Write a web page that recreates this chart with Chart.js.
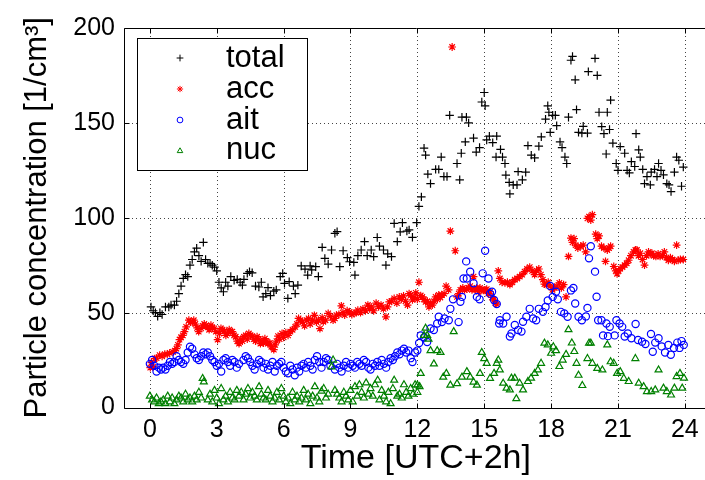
<!DOCTYPE html>
<html><head><meta charset="utf-8">
<script src="https://cdn.jsdelivr.net/npm/chart.js@4/dist/chart.umd.min.js"></script>
<style>html,body{margin:0;padding:0;background:#fff;overflow:hidden;width:705px;height:480px}canvas{display:block}</style>
</head><body><canvas id="c" width="713" height="480"></canvas>
<script>
const timeTicks=[0,3,6,9,12,15,18,21,24];
const concTicks=[0,50,100,150,200];
const seriesNames=['total','acc','ait','nuc'];

const totalTime=[0.05,0.15,0.25,0.35,0.45,0.55,0.7,0.85,0.95,1.1,1.2,1.3,1.4,1.5,1.6,1.7,1.8,1.9,2.0,2.1,2.2,2.3,2.4,2.5,2.6,2.7,2.8,2.9,3.0,3.1,3.2,3.3,3.4,3.5,3.63,3.78,3.92,4.05,4.15,4.22,4.37,4.47,4.59,4.74,4.89,5.0,5.08,5.2,5.3,5.41,5.56,5.67,5.85,5.96,6.04,6.19,6.25,6.44,6.52,6.64,6.79,6.96,7.08,7.19,7.26,7.44,7.56,7.73,7.85,8.0,8.15,8.3,8.4,8.52,8.67,8.86,8.96,9.15,9.2,9.33,9.48,9.63,9.75,9.93,10.04,10.2,10.3,10.48,10.59,10.67,10.84,10.96,11.1,11.23,11.33,11.53,11.63,11.78,11.97,12.07,12.18,12.3,12.37,12.47,12.59,12.82,12.96,13.07,13.19,13.33,13.45,13.78,13.9,13.97,14.0,14.15,14.2,14.3,14.52,14.64,14.79,14.89,15.0,15.04,15.11,15.23,15.38,15.53,15.56,15.73,15.82,15.93,15.97,16.12,16.15,16.3,16.47,16.52,16.71,16.86,16.96,17.11,17.26,17.45,17.56,17.75,17.85,17.9,17.96,18.07,18.19,18.25,18.4,18.49,18.62,18.7,18.78,18.89,18.96,19.08,19.14,19.23,19.38,19.44,19.63,19.67,19.97,20.07,20.15,20.27,20.37,20.47,20.52,20.62,20.67,20.77,20.92,21.0,21.1,21.3,21.41,21.51,21.6,21.75,21.81,21.93,22.0,22.11,22.19,22.3,22.45,22.49,22.64,22.75,22.82,22.93,23.04,23.19,23.29,23.38,23.53,23.63,23.73,23.85,23.93];
const totalConc=[53,51,50,48,50,49,53,53,54,54,56,60,64,68,70,69,75,78,82,84,80,77,87,78,76,76,75,74,72,66,63,61,66,64,69,67,67.5,66,64.5,67.5,70.7,71.6,71,64,63.5,66,58.3,60,63.2,59,61.3,62,69,70.7,65.4,57.5,66.3,64,60,64.5,74.6,72.9,69.8,74.6,72.5,74.2,69,84.4,78.6,75.6,83,91.8,92.7,74.2,82.6,79,76.8,76.5,69.8,80,83,87.4,80,83,79.5,89.6,85,83,75,81,79.5,97,87.4,92.6,97.4,93,93.6,89.7,97.4,106,111,136.7,133,123,118,125.5,125.5,132,121.7,121.7,154,128.6,120,134,153,140,153,150,142,134.6,137,161,166,159,141,143,139.6,132,143,136,132,128.6,122.5,118.6,112.6,117.3,117.3,124.3,120,124,138,133,131.6,137.7,142.6,152,159,155.6,145,154,154,148.5,140,137,132,128.6,153,183,185,172.7,157,145,144.6,148.2,144.6,177,184,175,155.6,148,144.3,133.6,155.6,146.5,162,139.3,128.6,125,137.5,134,125,123.6,129.6,127,144.3,135.8,132,125.5,118,121.7,117.3,124,125.5,121.7,128.6,125,122.6,118,117.3,113.8,124,132,130.3,116.6,126.7];

const accTime=[0.02,0.07,0.14,0.22,0.3,0.44,0.55,0.67,0.78,0.89,1.04,1.12,1.19,1.26,1.33,1.4,1.48,1.55,1.63,1.75,1.82,1.9,1.97,2.04,2.12,2.19,2.3,2.37,2.44,2.52,2.59,2.66,2.74,2.81,2.89,2.96,3.04,3.12,3.19,3.26,3.33,3.41,3.48,3.56,3.63,3.7,3.78,3.85,3.92,4.0,4.08,4.15,4.22,4.3,4.37,4.44,4.52,4.59,4.67,4.74,4.81,4.89,4.96,5.04,5.1,5.16,5.23,5.3,5.38,5.45,5.56,5.62,5.68,5.75,5.82,5.93,6.0,6.1,6.2,6.3,6.4,6.52,6.6,6.67,6.76,6.84,6.94,7.04,7.12,7.19,7.3,7.38,7.47,7.56,7.63,7.73,7.78,7.88,8.0,8.1,8.22,8.3,8.37,8.48,8.59,8.66,8.74,8.85,8.96,9.06,9.16,9.25,9.33,9.45,9.56,9.67,9.78,9.86,9.93,10.04,10.15,10.26,10.37,10.48,10.59,10.66,10.74,10.85,10.96,11.08,11.19,11.28,11.38,11.47,11.56,11.63,11.7,11.78,11.86,11.93,12.0,12.07,12.15,12.22,12.3,12.37,12.45,12.52,12.6,12.67,12.75,12.82,12.9,12.96,13.03,13.1,13.2,13.29,13.4,13.48,13.56,13.7,13.78,13.86,13.93,14.04,14.12,14.22,14.3,14.37,14.45,14.52,14.6,14.67,14.74,14.81,14.89,14.96,15.04,15.11,15.18,15.26,15.35,15.44,15.5,15.56,15.63,15.7,15.8,15.93,16.04,16.15,16.26,16.37,16.48,16.59,16.7,16.81,16.92,17.04,17.15,17.26,17.35,17.45,17.54,17.63,17.7,17.78,17.87,17.96,18.06,18.16,18.26,18.37,18.46,18.56,18.67,18.78,18.89,18.96,19.03,19.1,19.2,19.33,19.44,19.55,19.63,19.7,19.78,19.85,20.0,20.07,20.15,20.26,20.37,20.44,20.52,20.6,20.67,20.81,20.9,20.96,21.03,21.1,21.2,21.3,21.39,21.48,21.58,21.7,21.78,21.85,21.92,22.0,22.1,22.19,22.28,22.37,22.45,22.52,22.6,22.7,22.8,22.89,23.0,23.08,23.17,23.26,23.35,23.44,23.53,23.63,23.7,23.8,23.93];
const accConc=[21,23.6,21.5,25.8,26,27.6,27,28.1,28,28.8,29.3,30,31,33,35.8,37,38,40,42.5,46,45,45,46,44,42,40,41.7,43,44,43,42.5,41,43.4,42,41.7,40,35.8,39,41.7,41,40.4,38,39,41,40,40,38,37.3,35,33.7,36,35,37.3,38,36,39,38,37.6,36,35,37.3,36,33.7,35,34,36.3,35,33.7,34,32,30.5,33,35,37.6,36,39,37,39.4,38,40,41,42.5,44,47,46,45,43,46,47,44,46,48.6,45,46,41.6,47.4,45.2,46,49.6,48,46,47,48.7,49,53.6,50,48.7,51,50.4,49,49.6,50,51.3,50,52,51,54,52,53,51,55,53,54,52,47.8,53,55.7,56,57.5,55,58.3,57,58.8,56,54,60,59.3,56.7,58,60.4,57,66,59,58.3,57,55.7,56,53,55,54,56,58.3,57,59.3,58,59.3,60,64,62,93,190,82.6,58.3,60,62,63,62,62.4,63,64,62,69,62,63,61,63,62,61.7,62,62.4,60,61,58,56.7,55,54.5,72,68,66,65.7,66,64.8,66,67.4,68,69,70,71.6,73,74,72,70,72,73,70,67.4,65,64.8,66,64,62,63,64,65.7,63,64.8,58.3,79.6,89.3,87,89,85.6,84,85,85.6,82,99.7,100.6,98.8,101.6,91.4,89,90.4,85,84,77,83,84,85,74.3,72,70.5,72,73.2,74,75,76,77.6,80,82,83,83,80,81.3,78,75,80,82,81,81.3,80,79.6,81,79.6,80,82,79,77.6,79,78,77,85.6,77.6,78,78];

const aitTime=[0,0.1,0.2,0.3,0.4,0.5,0.6,0.7,0.8,0.9,1.0,1.1,1.2,1.3,1.4,1.5,1.6,1.7,1.8,1.9,2.0,2.1,2.2,2.3,2.4,2.5,2.6,2.7,2.8,2.9,3.0,3.1,3.2,3.3,3.4,3.5,3.6,3.7,3.8,3.9,4.0,4.2,4.3,4.4,4.5,4.6,4.7,4.8,4.9,5.0,5.1,5.2,5.3,5.4,5.5,5.6,5.7,5.8,5.9,6.0,6.1,6.2,6.3,6.4,6.5,6.6,6.7,6.8,6.9,7.0,7.1,7.2,7.3,7.4,7.5,7.6,7.7,7.8,7.9,8.0,8.1,8.3,8.4,8.5,8.6,8.7,8.8,8.9,9.0,9.1,9.2,9.3,9.4,9.5,9.6,9.7,9.8,9.9,10.0,10.1,10.2,10.3,10.4,10.5,10.6,10.7,10.8,10.9,11.0,11.1,11.2,11.3,11.4,11.5,11.6,11.7,11.78,11.9,12.0,12.08,12.15,12.3,12.44,12.59,12.74,12.89,12.96,13.1,13.22,13.41,13.48,13.6,13.85,13.93,14.0,14.07,14.19,14.22,14.37,14.52,14.67,14.79,14.93,15.04,15.19,15.26,15.35,15.44,15.56,15.67,15.7,15.85,16.0,16.15,16.22,16.37,16.52,16.67,16.74,16.89,17.04,17.19,17.33,17.45,17.63,17.75,17.85,17.96,18.07,18.22,18.3,18.44,18.59,18.74,18.89,19.0,19.08,19.23,19.38,19.56,19.63,19.7,19.78,19.97,20.04,20.11,20.26,20.33,20.48,20.55,20.63,20.85,20.93,21.07,21.19,21.3,21.44,21.6,21.79,21.9,22.08,22.23,22.48,22.56,22.67,22.82,22.96,23.11,23.26,23.37,23.51,23.66,23.76,23.85,23.95];
const aitConc=[23,25,22,19,21,20,21,20,22,24,23,24,27,25,24,23,25,29,32,31,28,26,25,27,29,28,29,27,25,24,22,23,19,25,26,24,22,25,24,21,23,25,27,26,24,22,20,23,25,24,21,23,20,22,24,19,22,23,24,21,19,18,22,20,17,21,19,22,23,21,24,22,20,25,27,24,21,24,26,25,22,20,23,21,19,22,24,21,23,22,21,24,23,22,25,24,21,20,23,22,24,22,25,23,21,24,26,25,27,29,28,30,31,29,30,26,24,29,30,34,38,37,34.5,41.6,40.8,44.3,47.8,45,46.9,46,52,57,45,55.7,58.3,68,77,68,71.6,65.5,58.3,57,70.7,82.6,68,60,61,56.7,54.5,44.3,46,44.3,47.8,37.4,39,43.5,40.8,40,45.2,47.8,52,46.9,46,52,50.4,53,56.4,64,58.3,61,57,50.4,49.6,47.8,61.7,63,54.8,47.8,46,48,52.5,78.6,85,71.6,58.4,46,46,38,44.3,37.6,42.5,38,46,44.3,42.5,37.4,39,36.5,44,35.6,34.7,33.5,38.7,29.4,34.2,36.5,32.2,29,33,27.8,31.4,34.2,31.4,35,33];

const nucTime=[0.0,0.1,0.2,0.3,0.4,0.5,0.6,0.7,0.8,0.9,1.0,1.1,1.2,1.3,1.4,1.5,1.6,1.7,1.8,1.9,2.0,2.1,2.2,2.3,2.37,2.42,2.6,2.7,2.8,2.9,3.0,3.1,3.2,3.3,3.4,3.5,3.6,3.7,3.8,3.9,4.0,4.1,4.2,4.3,4.4,4.5,4.6,4.7,4.8,4.9,5.0,5.1,5.2,5.3,5.4,5.5,5.6,5.7,5.8,5.9,6.0,6.1,6.2,6.3,6.4,6.5,6.6,6.7,6.8,6.9,7.0,7.1,7.2,7.3,7.4,7.5,7.6,7.7,7.8,7.9,8.0,8.15,8.22,8.3,8.4,8.5,8.6,8.7,8.8,8.9,9.0,9.1,9.2,9.3,9.4,9.5,9.6,9.7,9.8,9.9,10.0,10.1,10.22,10.3,10.4,10.5,10.6,10.7,10.8,10.9,10.96,11.1,11.2,11.3,11.4,11.5,11.6,11.7,11.8,11.9,12.0,12.0,12.1,12.15,12.3,12.37,12.44,12.5,12.59,12.74,12.89,13.04,13.16,13.3,13.48,13.63,13.78,14.0,14.22,14.37,14.52,14.67,14.81,14.89,15.0,15.11,15.26,15.44,15.56,15.63,15.7,15.85,16.0,16.15,16.22,16.37,16.44,16.59,16.74,16.96,17.1,17.26,17.41,17.55,17.7,17.85,18.0,18.1,18.22,18.37,18.52,18.67,18.78,18.93,19.04,19.14,19.23,19.4,19.63,19.7,19.78,19.85,20.07,20.3,20.52,20.67,20.81,20.96,21.1,21.26,21.48,21.78,21.93,22.15,22.3,22.49,22.67,22.82,23.04,23.19,23.38,23.53,23.63,23.78,23.88,23.96];
const nucConc=[6,4,3,5,2,3,4,2,6,3,5,2,4,6,5,3,7,4,5,3,6,4,8,5,15.3,13.5,4,7,3,9,5,2,10,4,6,3,8,5,4,9,6,8,4,7,10,5,8,6,4,11,7,5,4,9,6,3,5,8,4,10,6,3,5,2,8,4,6,3,5,9,4,7,2,6,11,5,3,8.6,10,5,7,21.4,25,9,7,5,3,8,6,4,9,3,11,6,12,8,5,13,7,10,6,12,14.4,4,9,6,3,8,2,10,14.4,6,7,5,12,8,6,10,7,12,8,11.8,11,18,38,41.8,38,36,30,23,30,29,16,18,11.8,40,12.6,16,18.9,16,13.4,11.8,18,29,25.8,23.3,15.4,18,23.3,25,19.8,12.8,10.2,9.3,15.5,15.5,4.7,12.8,9.3,13.7,15.5,18,19.8,23.3,33.9,33,28.6,32,30,21.6,25,28,41,34,29.5,23.3,17,11.6,25.8,33.9,33.9,23.3,20.6,19.8,33,24.1,23.3,18,18.9,15.4,13.7,25.8,12.8,11,8.4,8.4,9.3,19.8,10.2,8.4,6.6,10.2,16.3,18,10.2,15.5];

const FONT='"Liberation Sans", Arial, Helvetica, sans-serif';
const styles={
  total:{color:'#000000',pointStyle:'cross',radius:4.2},
  acc:{color:'#ff0000',pointStyle:'star',radius:3.9},
  ait:{color:'#0000ff',pointStyle:'circle',radius:3.6},
  nuc:{color:'#008000',pointStyle:'triangle',radius:4.0}
};
function pts(t,c){return t.map((x,i)=>({x:x,y:c[i]}));}
const seriesData={total:pts(totalTime,totalConc),acc:pts(accTime,accConc),ait:pts(aitTime,aitConc),nuc:pts(nucTime,nucConc)};

const datasets=seriesNames.map((n,i)=>({
  label:n,data:seriesData[n],showLine:false,
  pointStyle:styles[n].pointStyle,pointRadius:styles[n].radius,pointHoverRadius:styles[n].radius,
  borderColor:styles[n].color,backgroundColor:'rgba(0,0,0,0)',pointBorderWidth:1.2,borderWidth:1.2,
  order:seriesNames.length-i
}));

const framePlugin={
  id:'frame',
  beforeDatasetsDraw(chart){
    const {ctx,chartArea:a,scales:{x,y}}=chart;
    ctx.save();
    ctx.strokeStyle='#444';ctx.lineWidth=1;ctx.setLineDash([1,3]);
    timeTicks.forEach(v=>{const px=Math.round(x.getPixelForValue(v))+0.5;ctx.beginPath();ctx.moveTo(px,a.top);ctx.lineTo(px,a.bottom);ctx.stroke();});
    concTicks.forEach(v=>{if(v<=0||v>=200)return;const py=Math.round(y.getPixelForValue(v))+0.5;ctx.beginPath();ctx.moveTo(a.left,py);ctx.lineTo(a.right,py);ctx.stroke();});
    ctx.restore();
  },
  afterDatasetsDraw(chart){
    const {ctx,chartArea:a,scales:{x,y}}=chart;
    ctx.save();
    ctx.strokeStyle='#000';ctx.lineWidth=1;ctx.setLineDash([]);
    const L=Math.round(a.left)+0.5,T=Math.round(a.top)+0.5,B=Math.round(a.bottom)+0.5,R=Math.round(a.right)+0.5;
    ctx.beginPath();ctx.moveTo(R,T);ctx.lineTo(L,T);ctx.lineTo(L,B);ctx.lineTo(R,B);ctx.stroke();
    const tl=5;
    timeTicks.forEach(v=>{const px=Math.round(x.getPixelForValue(v))+0.5;ctx.beginPath();ctx.moveTo(px,B);ctx.lineTo(px,B-tl);ctx.moveTo(px,T);ctx.lineTo(px,T+tl);ctx.stroke();});
    concTicks.forEach(v=>{const py=Math.round(y.getPixelForValue(v))+0.5;ctx.beginPath();ctx.moveTo(L,py);ctx.lineTo(L+tl,py);ctx.stroke();});
    // legend
    const bx=137.5,by=38.5,bw=170,bh=132;
    ctx.fillStyle='#fff';ctx.fillRect(bx,by,bw,bh);
    ctx.strokeRect(bx,by,bw,bh);
    ctx.font='31px '+FONT;ctx.textAlign='left';ctx.textBaseline='alphabetic';
    const rows=[58,89,120,151],bases=[67,97.5,129,159];
    seriesNames.forEach((n,i)=>{
      const s=styles[n];
      ctx.strokeStyle=s.color;ctx.fillStyle='rgba(0,0,0,0)';ctx.lineWidth=1;
      Chart.helpers.drawPoint(ctx,{pointStyle:s.pointStyle,radius:s.radius*0.8,rotation:0,borderWidth:1},180,rows[i]);
      ctx.fillStyle='#000';
      ctx.fillText(n,226,bases[i]);
    });
    ctx.restore();
  }
};

new Chart(document.getElementById('c'),{
  type:'scatter',
  data:{datasets:datasets},
  options:{
    responsive:false,animation:false,devicePixelRatio:1,
    layout:{padding:{top:28,right:0,left:0,bottom:0}},
    plugins:{legend:{display:false},tooltip:{enabled:false}},
    scales:{
      x:{type:'linear',min:-1.16,max:25.02,
        afterBuildTicks:s=>{s.ticks=timeTicks.map(v=>({value:v}));},
        afterFit:s=>{s.height=72.5;},
        grid:{display:false,drawTicks:false},border:{display:false},
        ticks:{color:'#000',font:{family:FONT,size:25},padding:8,maxRotation:0,autoSkip:false},
        title:{display:true,text:'Time [UTC+2h]',color:'#000',font:{family:FONT,size:34},padding:{top:0,bottom:1}}
      },
      y:{type:'linear',min:0,max:200,
        afterBuildTicks:s=>{s.ticks=concTicks.map(v=>({value:v}));},
        afterFit:s=>{s.width=124;},
        grid:{display:false,drawTicks:false},border:{display:false},
        ticks:{color:'#000',font:{family:FONT,size:25},padding:9,autoSkip:false},
        title:{display:true,text:'Particle concentration [1/cm\u00B3]',color:'#000',font:{family:FONT,size:31},padding:{top:19,bottom:0}}
      }
    }
  },
  plugins:[framePlugin]
});
</script></body></html>
